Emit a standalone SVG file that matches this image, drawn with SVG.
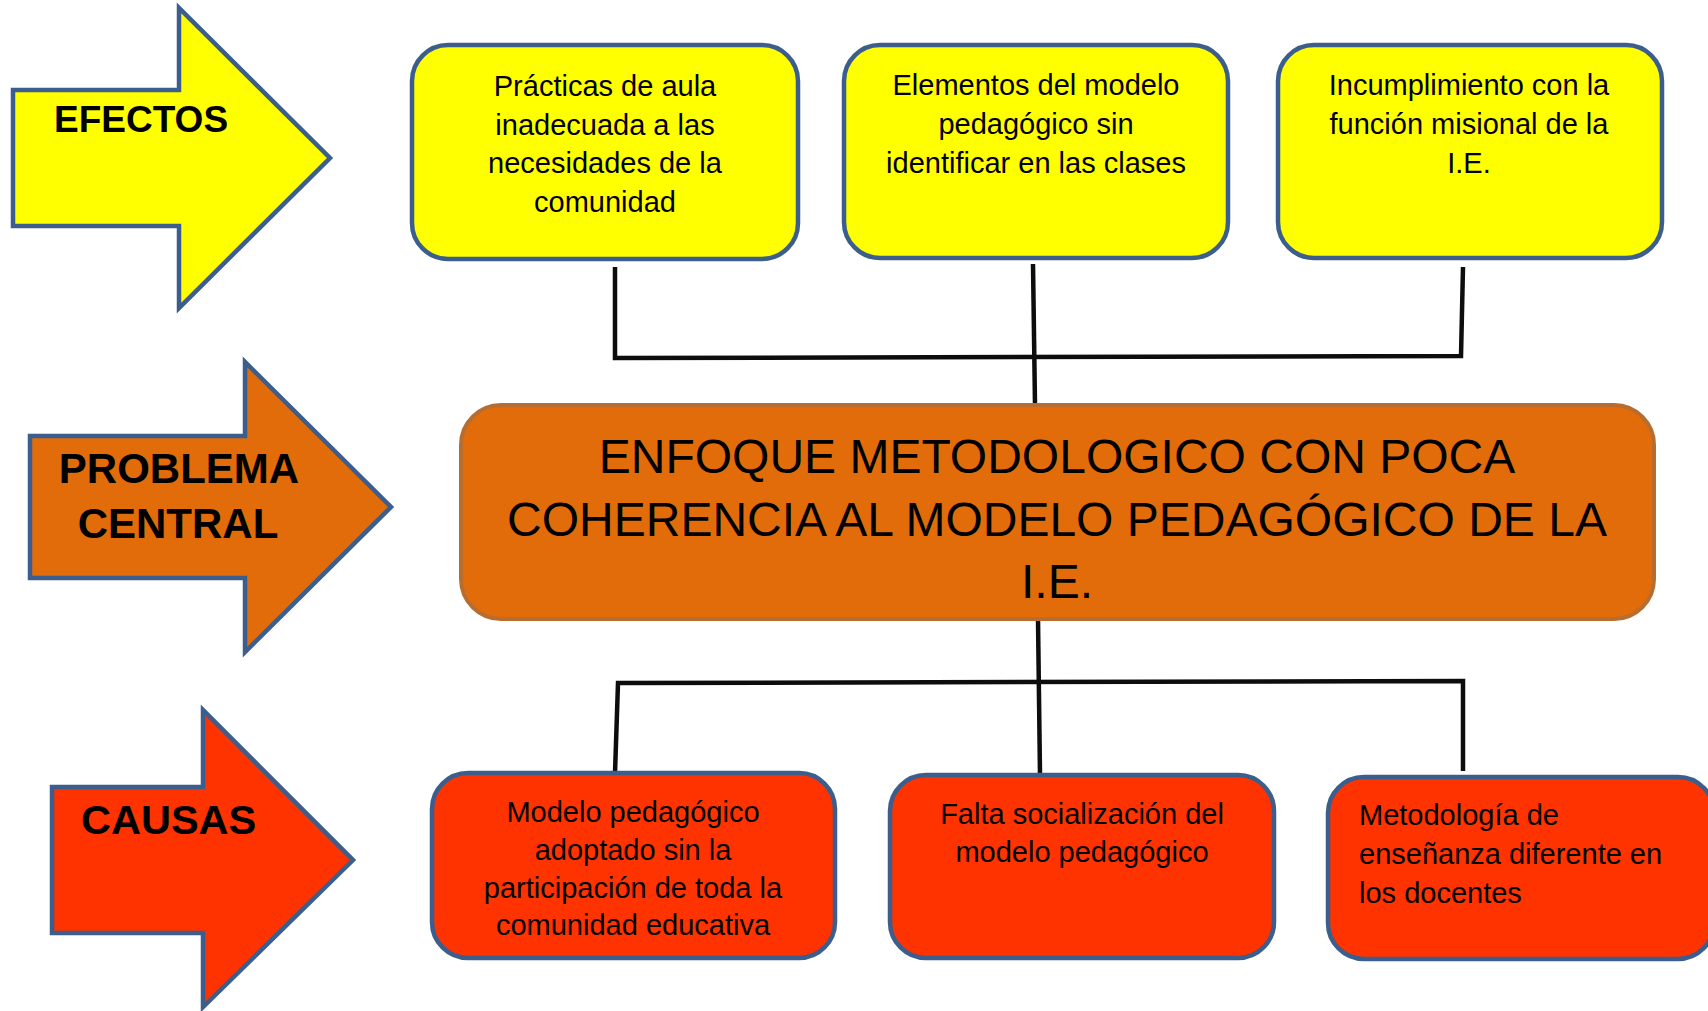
<svg xmlns="http://www.w3.org/2000/svg" width="1708" height="1011" viewBox="0 0 1708 1011">
<style>
.arrow{stroke:#3b5e8c;stroke-width:4.5;stroke-linejoin:miter}
.box{stroke:#3b5e8c;stroke-width:4.5}
.yel{fill:#ffff00}
.red{fill:#ff3300}
.cen{fill:#e36c0a;stroke:#b86d30;stroke-width:4}
.lbl{font-family:"Liberation Sans",Arial,sans-serif;font-weight:bold;fill:#000}
.t{font-family:"Liberation Sans",Arial,sans-serif;font-size:29px;fill:#000;text-anchor:middle}
.tl{font-family:"Liberation Sans",Arial,sans-serif;font-size:29px;fill:#000}
.big{font-family:"Liberation Sans",Arial,sans-serif;font-size:48px;fill:#000;text-anchor:middle}
.con{fill:none;stroke:#0d0d0d;stroke-width:4.5;stroke-linejoin:miter}
</style>
<rect width="1708" height="1011" fill="#ffffff"/>
<g id="connectors">
<polyline class="con" points="615,267 615,358 1461,356 1463,267"/>
<line class="con" x1="1033" y1="264" x2="1035" y2="405"/>
<line class="con" x1="1038" y1="619" x2="1040" y2="775"/>
<polyline class="con" points="615,773 618,683 1463,681 1463,771"/>
</g>
<g id="efectos">
<polygon class="arrow" fill="#ffff00" points="13,90 179,90 179,8 330,158 179,308 179,226 13,226"/>
<text class="lbl" x="54" y="132" font-size="37">EFECTOS</text>
</g>
<g id="problema-central">
<polygon class="arrow" fill="#e36c0a" points="30,436 245,436 245,362 391,507 245,652 245,578 30,578"/>
<text class="lbl" x="179" y="483" font-size="42" text-anchor="middle">PROBLEMA</text>
<text class="lbl" x="178" y="538" font-size="42" text-anchor="middle">CENTRAL</text>
</g>
<g id="causas">
<polygon class="arrow" fill="#ff3300" points="52,787 203,787 203,710 353,860 203,1007 203,933 52,933"/>
<text class="lbl" x="81" y="834" font-size="41.5">CAUSAS</text>
</g>
<g id="efecto1">
<rect class="box yel" x="412" y="45" width="386" height="214" rx="36"/>
<text class="t" x="605" y="96">Prácticas de aula</text>
<text class="t" x="605" y="134.5">inadecuada a las</text>
<text class="t" x="605" y="173">necesidades de la</text>
<text class="t" x="605" y="211.5">comunidad</text>
</g>
<g id="efecto2">
<rect class="box yel" x="844" y="45" width="384" height="213" rx="36"/>
<text class="t" x="1036" y="95">Elementos del modelo</text>
<text class="t" x="1036" y="134">pedagógico sin</text>
<text class="t" x="1036" y="173">identificar en las clases</text>
</g>
<g id="efecto3">
<rect class="box yel" x="1278" y="45" width="384" height="213" rx="36"/>
<text class="t" x="1469" y="95">Incumplimiento con la</text>
<text class="t" x="1469" y="134">función misional de la</text>
<text class="t" x="1469" y="173">I.E.</text>
</g>
<g id="problema">
<rect class="cen" x="461" y="405" width="1193" height="214" rx="40"/>
<text class="big" x="1057" y="473">ENFOQUE METODOLOGICO CON POCA</text>
<text class="big" x="1057" y="536">COHERENCIA AL MODELO PEDAGÓGICO DE LA</text>
<text class="big" x="1057" y="598">I.E.</text>
</g>
<g id="causa1">
<rect class="box red" x="432" y="773" width="403" height="185" rx="36"/>
<text class="t" x="633" y="822">Modelo pedagógico</text>
<text class="t" x="633" y="860">adoptado sin la</text>
<text class="t" x="633" y="898">participación de toda la</text>
<text class="t" x="633" y="935">comunidad educativa</text>
</g>
<g id="causa2">
<rect class="box red" x="890" y="775" width="384" height="183" rx="36"/>
<text class="t" x="1082" y="824">Falta socialización del</text>
<text class="t" x="1082" y="862">modelo pedagógico</text>
</g>
<g id="causa3">
<rect class="box red" x="1328" y="777" width="386" height="182" rx="36"/>
<text class="tl" x="1359" y="825">Metodología de</text>
<text class="tl" x="1359" y="864">enseñanza diferente en</text>
<text class="tl" x="1359" y="903">los docentes</text>
</g>
</svg>
